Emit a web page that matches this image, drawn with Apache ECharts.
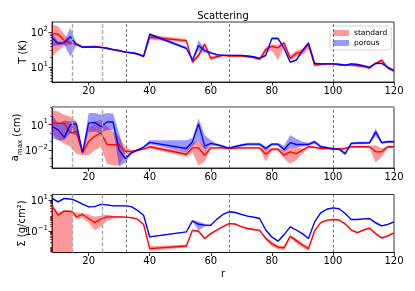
<!DOCTYPE html>
<html><head><meta charset="utf-8">
<script src="https://cdn.jsdelivr.net/npm/echarts@6/dist/echarts.min.js"></script>
<style>html,body{margin:0;padding:0;background:#fff}#c{width:415px;height:291px}</style>
</head><body><div id="c"></div>
<script>
// ---- data ----
const r = [8,10,12,14,16,18,20,22,24,26,28,30,32,34,36,38,40,52,54,56,58,60,62,64,66,68,70,72,74,76,78,80,82,84,86,88,90,92,94,96,98,100,102,104,106,108,110,112,114,116,118,120];
const rS = [8,10,12,14,14.7,14.7,16,18,20,22,24,26,28,30,32,34,36,38,40,52,54,56,58,60,62,64,66,68,70,72,74,76,78,80,82,84,86,88,90,92,94,96,98,100,102,104,106,108,110,112,114,116,118,120];

const tStd   = [93,88,58,50,47,37,38,39,37,35,32,30,27,26,24,20,72,58,14,22,46,18,20,22,21,21,21,20,19,17,32,40,36,50,18,25,28,45,11.5,12,12.5,12.5,12,11.5,11.5,11,10.5,9.5,13,16,9.5,7.8];
const tStdLo = [20,30,40,44,43,35,36,36,35,33,30,28,26,25,23,19.5,62,50,13,19,38,16,18,21,20,20,20,19,18,16,26,30,16,38,16,20,22,33,10.5,11.3,11.8,11.8,11.3,10.8,10.8,10.3,9.8,8.8,12,14.5,8.8,7.2];
const tStdHi = [165,150,90,56,51,39,41,43,40,37,34,31,28.5,27.5,25.5,21,85,64,15.5,25,50,21,22,23,22.5,22.5,22.5,21.5,20.5,18.5,38,45,44,55,22,30,34,50,12.5,12.8,13.3,13.3,12.8,12.3,12.3,11.8,11.3,10.3,14,17.5,10.3,8.5];
const tPor   = [70,48,50,75,45,38,38,38,37,35,32,30,27,26,24,21,88,35,16,42,30,26,23,22,22,22,22,21,20,18,22,67,67,35,14,16,30,50,13,12.5,12.5,12.5,12,11.5,12.5,12,11,10,13,13,10,8];
const tPorLo = [40,42,45,20,42,36,36,36,35,33,30,28,26,25,23,20,80,32,15,30,26,24,21.5,21,21,21,21,20,19,17,20,60,60,32,13,15,27,45,12.3,11.8,11.8,11.8,11.3,10.8,11.8,11.3,10.3,9.3,12,12,9.3,7.5];
const tPorHi = [95,55,56,135,49,40,40,40,39,37,34,32,28.5,27.5,25.5,22,95,39,17,60,35,28,24.5,23,23,23,23,22,21,19,24,72,72,39,15,17.5,33,55,13.8,13.3,13.3,13.3,12.8,12.3,13.3,12.8,11.8,10.8,14,14,10.8,8.6];

const aStd   = [17,14,14,1.1,1.4,0.0044,0.1,0.4,1.0,0.045,0.04,0.04,0.0065,0.0065,0.009,0.012,0.023,0.003,0.017,0.017,0.0023,0.017,0.017,0.017,0.0145,0.016,0.017,0.017,0.017,0.017,0.003,0.012,0.012,0.0023,0.0058,0.0036,0.009,0.023,0.02,0.0145,0.0145,0.0145,0.012,0.0145,0.023,0.023,0.023,0.023,0.0058,0.0058,0.023,0.023];
const aStdLo = [0.9,0.14,0.057,0.023,0.0035,0.0023,0.0023,0.009,0.023,0.00023,0.00014,0.00014,0.003,0.004,0.007,0.01,0.0145,0.0015,0.005,0.00014,0.0004,0.012,0.013,0.013,0.011,0.012,0.013,0.013,0.013,0.013,0.0004,0.008,0.008,0.0009,0.00023,0.0006,0.004,0.016,0.015,0.011,0.011,0.011,0.009,0.011,0.017,0.017,0.017,0.017,0.0003,0.0015,0.017,0.017];
const aStdHi = [575,360,145,91,23,0.006,3.6,23,36,5.8,1.4,0.36,0.023,0.009,0.012,0.015,0.036,0.0058,0.06,0.14,0.02,0.023,0.022,0.022,0.019,0.021,0.022,0.022,0.022,0.022,0.012,0.016,0.016,0.009,0.023,0.023,0.014,0.03,0.026,0.019,0.019,0.019,0.016,0.019,0.03,0.03,0.03,0.03,0.036,0.015,0.03,0.03];
const aPor   = [5.8,2.3,0.3,9,12,0.005,15,18,5.8,20,20,0.009,0.0009,0.0045,0.009,0.02,0.076,0.0145,0.09,12,0.028,0.058,0.04,0.025,0.0145,0.025,0.035,0.047,0.047,0.047,0.0145,0.047,0.047,0.011,0.07,0.043,0.043,0.043,0.09,0.023,0.018,0.012,0.012,0.0036,0.058,0.065,0.065,0.07,1.4,0.07,0.09,0.09];
const aPorLo = [0.23,0.14,0.14,0.9,0.5,0.003,1.4,1.4,0.9,2.3,2.3,0.0001,0.0003,0.0035,0.007,0.016,0.047,0.005,0.03,0.14,0.01,0.03,0.03,0.018,0.011,0.018,0.025,0.03,0.03,0.03,0.008,0.03,0.03,0.006,0.02,0.02,0.025,0.03,0.05,0.016,0.013,0.009,0.009,0.002,0.04,0.045,0.045,0.05,0.4,0.05,0.065,0.065];
const aPorHi = [145,14,30,23,23,0.007,230,230,145,230,200,0.9,0.002,0.006,0.012,0.03,0.14,0.14,0.25,57,0.58,0.14,0.06,0.035,0.02,0.035,0.05,0.07,0.07,0.07,0.025,0.065,0.065,0.03,0.58,0.2,0.1,0.07,0.14,0.035,0.025,0.016,0.016,0.006,0.08,0.09,0.09,0.1,3.6,0.1,0.13,0.13];

const sStd   = [4.3,1.07,1.95,1.85,1.7,1.7,0.84,1.2,0.66,0.36,0.6,0.84,0.84,0.84,0.8,0.75,0.6,0.27,0.0076,0.0113,0.115,0.1,0.034,0.07,0.12,0.2,0.31,0.29,0.2,0.15,0.13,0.115,0.035,0.016,0.0095,0.0085,0.048,0.025,0.013,0.0076,0.105,0.36,0.5,0.57,0.53,0.3,0.12,0.082,0.12,0.16,0.07,0.037,0.05,0.078];
const sStdLo = [0.0001,0.0001,0.0001,0.0001,0.0001,1.35,0.6,0.7,0.35,0.115,0.2,0.45,0.65,0.72,0.7,0.66,0.53,0.24,0.0055,0.009,0.1,0.085,0.03,0.062,0.105,0.18,0.28,0.26,0.18,0.13,0.11,0.1,0.026,0.011,0.007,0.006,0.035,0.017,0.009,0.0055,0.09,0.32,0.45,0.52,0.48,0.27,0.1,0.072,0.105,0.14,0.06,0.032,0.043,0.07];
const sStdHi = [5.2,1.6,2.4,2.3,2.1,2.1,1.6,1.5,1.2,0.84,1.0,1.2,1.0,0.95,0.88,0.83,0.67,0.3,0.011,0.014,0.13,0.115,0.038,0.078,0.135,0.22,0.34,0.32,0.22,0.17,0.15,0.13,0.042,0.021,0.013,0.011,0.058,0.033,0.018,0.01,0.12,0.4,0.55,0.63,0.58,0.33,0.135,0.092,0.135,0.18,0.08,0.042,0.057,0.087];
const sPor   = [12.8,7.8,12.8,11.5,11,11,8.6,5.5,3.7,3.8,5.3,5.0,4.3,4.3,4.3,3.8,2.2,1.07,0.043,0.09,0.46,0.28,0.25,0.24,0.6,1.2,1.78,1.6,1.2,0.93,0.8,0.66,0.12,0.043,0.023,0.06,0.19,0.12,0.07,0.034,0.4,1.5,2.6,3.2,2.8,1.4,0.57,0.57,0.62,0.66,0.35,0.22,0.28,0.4];
const sPorLo = [11.5,6.8,11.5,10.5,10,10,8,5.1,3.5,3.6,5,4.7,4.1,4.1,4.1,3.6,2.1,1.0,0.04,0.085,0.4,0.11,0.2,0.22,0.56,1.12,1.68,1.5,1.12,0.85,0.72,0.6,0.11,0.04,0.021,0.055,0.18,0.11,0.065,0.032,0.37,1.4,2.45,3.0,2.6,1.3,0.53,0.53,0.58,0.6,0.28,0.2,0.26,0.37];
const sPorHi = [14,9,13.8,12.5,12,12,9.3,5.9,4,4.1,5.7,5.4,4.6,4.6,4.6,4.1,2.35,1.15,0.047,0.097,0.5,0.42,0.3,0.26,0.64,1.28,1.9,1.72,1.3,1.02,0.9,0.72,0.13,0.047,0.025,0.065,0.2,0.13,0.075,0.037,0.43,1.6,2.8,3.4,3.0,1.5,0.61,0.61,0.67,0.72,0.42,0.24,0.3,0.43];

const xTicks = [20,40,60,80,100,120];
const tTicks = [10,100];
const aTicks = [0.01,10];
const sTicks = [0.1,10];
const tMinor = [4,5,6,7,8,9,20,30,40,50,60,70,80,90];
const aMinor = [0.0001,0.001,0.1,1,100,1000];
const sMinor = [0.005,0.006,0.007,0.008,0.009,0.02,0.03,0.04,0.05,0.06,0.07,0.08,0.09,0.2,0.3,0.4,0.5,0.6,0.7,0.8,0.9,2,3,4,5,6,7,8,9,20];
const vLinesLight = [14.7,24.3];
const vLinesDark = [32.2,66,100];
const hLinesA = [0.0001,1000];
const yLabels = ['T (K)','{a|a}{sub|max} (cm)','Σ (g/cm²)'];
const legendNames = ['standard','porous'];

// ---- chart ----
const FONT = 'DejaVu Sans';
const RED = '#ff0000', BLUE = '#0000ff';
const RED_BAND = 'rgba(255,0,0,0.4)', BLUE_BAND = 'rgba(0,0,255,0.4)';

function logLabel(v){
  const e = Math.round(Math.log10(v));
  return '{b|10}{s|' + (e < 0 ? '\u2212' + (-e) : e) + '}';
}
const labelRich = {
  b:{fontSize:10,fontFamily:FONT,color:'#000',lineHeight:13,verticalAlign:'bottom'},
  s:{fontSize:7,fontFamily:FONT,color:'#000',lineHeight:7,verticalAlign:'top'}
};

const grids = [
  {left:52,width:342,top:22,height:60},
  {left:52,width:342,top:107,height:61},
  {left:52,width:342,top:194.5,height:58}
].map(g => Object.assign(g,{show:true,borderColor:'#000',borderWidth:0.8,backgroundColor:'transparent'}));

const yRanges = [[3.8,197],[7e-5,1200],[0.0043,23]];
const yMajor = [tTicks,aTicks,sTicks];
const yMinorL = [tMinor,aMinor,sMinor];
const yNameGap = [24,28,25];

const xAxes = [0,1,2].map(i => ({
  type:'value', gridIndex:i, min:8, max:120,
  name: i===2 ? 'r' : '', nameLocation:'middle', nameGap:17, nameMoveOverlap:false,
  nameTextStyle:{fontSize:10,fontFamily:FONT,color:'#000'},
  axisLine:{show:true,onZero:false,lineStyle:{color:'#000',width:0.8}},
  axisTick:{show:true,customValues:xTicks,length:3.5,lineStyle:{color:'#000',width:0.8}},
  axisLabel:{customValues:xTicks,fontSize:10,fontFamily:FONT,color:'#000',margin:4},
  splitLine:{show:false}
}));

const yAxes = [];
[0,1,2].forEach(i => {
  yAxes.push({
    type:'log', logBase:10, gridIndex:i, min:yRanges[i][0], max:yRanges[i][1], position:'left',
    name: yLabels[i], nameLocation:'middle', nameGap:yNameGap[i], nameMoveOverlap:false,
    nameTextStyle:{fontSize:10,fontFamily:FONT,color:'#000',
      rich:{a:{fontSize:10,fontFamily:FONT,color:'#000',lineHeight:14,verticalAlign:'top'},
            sub:{fontSize:7,fontFamily:FONT,color:'#000',lineHeight:9,verticalAlign:'bottom'}}},
    axisLine:{show:true,onZero:false,lineStyle:{color:'#000',width:0.8}},
    axisTick:{show:true,customValues:yMajor[i],length:3.5,lineStyle:{color:'#000',width:0.8}},
    axisLabel:{customValues:yMajor[i],formatter:logLabel,rich:labelRich,margin:4},
    splitLine:{show:false}
  });
  yAxes.push({
    type:'log', logBase:10, gridIndex:i, min:yRanges[i][0], max:yRanges[i][1], position:'left',
    axisLine:{show:false},
    axisTick:{show:true,customValues:yMinorL[i],length:2,lineStyle:{color:'#000',width:0.6}},
    axisLabel:{show:false},
    splitLine:{show:false}
  });
});

const series = [];
// shaded band between lo and hi, drawn as one polygon through the axes' own scales
function band(i, xs, lo, hi, color, name){
  series.push({
    type:'custom', name:name, xAxisIndex:i, yAxisIndex:2*i, silent:true, z:1,
    itemStyle:{color:color},
    data:[[xs[0], hi[0]]],
    renderItem:function(params, api){
      const pts = [];
      for (let k = 0; k < xs.length; k++) pts.push(api.coord([xs[k], hi[k]]));
      for (let k = xs.length - 1; k >= 0; k--) pts.push(api.coord([xs[k], lo[k]]));
      const cs = params.coordSys;
      return {type:'polygon', shape:{points:pts}, style:{fill:color, stroke:null},
        clipPath:{type:'rect', shape:{x:cs.x, y:cs.y, width:cs.width, height:cs.height}}};
    }
  });
}
function line(i, xs, ys, color, name, extra){
  series.push(Object.assign({type:'line',name:name,xAxisIndex:i,yAxisIndex:2*i,
    data:xs.map((x,k)=>[x,ys[k]]),symbol:'none',silent:true,
    lineStyle:{color:color,width:1.35},itemStyle:{color:color},z:3}, extra||{}));
}
function vMarks(i){
  const d = vLinesLight.map(v=>({xAxis:v,lineStyle:{color:'#aaaaaa',width:1.4,type:[4,2]}}))
    .concat(vLinesDark.map(v=>({xAxis:v,lineStyle:{color:'#555555',width:0.8,type:[3,2]}})));
  if (i===1) hLinesA.forEach(v=>d.push({yAxis:v,lineStyle:{color:'#aaaaaa',width:1,type:'solid'}}));
  return {markLine:{silent:true,symbol:['none','none'],label:{show:false},animation:false,data:d}};
}

const sets = [
  [r,tStd,tStdLo,tStdHi,tPor,tPorLo,tPorHi],
  [r,aStd,aStdLo,aStdHi,aPor,aPorLo,aPorHi],
  [rS,sStd,sStdLo,sStdHi,sPor,sPorLo,sPorHi]
];
sets.forEach((s,i) => {
  const [xs,rs,rl,rh,bs,bl,bh] = s;
  band(i,xs,rl,rh,RED_BAND, i===0?legendNames[0]:'std_band'+i);
  band(i,xs,bl,bh,BLUE_BAND, i===0?legendNames[1]:'por_band'+i);
  line(i,xs,rs,RED,'std_line'+i);
  line(i,xs,bs,BLUE,'por_line'+i, vMarks(i));
});

const chart = echarts.init(document.getElementById('c'), null, {renderer:'canvas'});
chart.setOption({
  animation:false,
  backgroundColor:'#fff',
  grid:grids,
  xAxis:xAxes,
  yAxis:yAxes,
  legend:{
    left:330, top:26, orient:'vertical', itemWidth:16, itemHeight:6, itemGap:2,
    padding:[3,4,3,3], borderColor:'#cccccc', borderWidth:0.8, borderRadius:2,
    backgroundColor:'rgba(255,255,255,0.8)', selectedMode:false,
    textStyle:{fontSize:7.5,fontFamily:FONT,color:'#000'},
    data:[
      {name:legendNames[0],icon:'rect',itemStyle:{color:RED_BAND,borderWidth:0}},
      {name:legendNames[1],icon:'rect',itemStyle:{color:BLUE_BAND,borderWidth:0}}
    ]
  },
  graphic:[{type:'text',x:223,y:16,silent:true,
    style:{text:'Scattering',fontSize:10,fontFamily:FONT,fill:'#000',align:'center',verticalAlign:'middle'}}],
  series:series
});
</script></body></html>
